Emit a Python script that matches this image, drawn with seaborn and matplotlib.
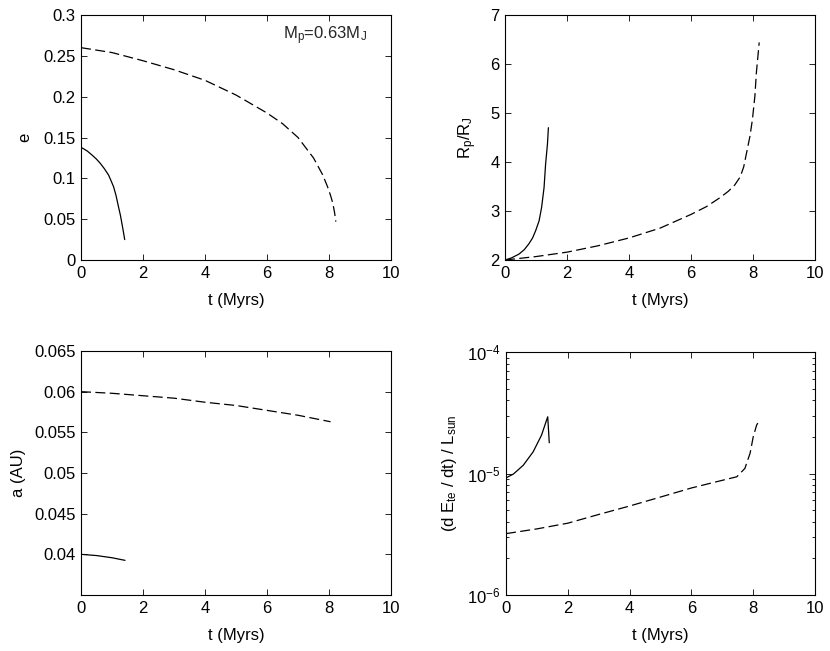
import numpy as np
import pandas as pd
import matplotlib
matplotlib.use("Agg")
import matplotlib.pyplot as plt
import seaborn as sns
from matplotlib.ticker import LogLocator, NullFormatter

# ---- data ----
t_e_solid = [0, 0.2, 0.35, 0.5, 0.62, 0.75, 0.89, 0.97, 1.05, 1.13, 1.21, 1.27, 1.32, 1.37, 1.41]
e_solid = [0.138, 0.1335, 0.1287, 0.1235, 0.1184, 0.112, 0.104, 0.097, 0.0898, 0.079, 0.065, 0.055, 0.0447, 0.034, 0.025]
t_e_dash = [0, 1, 2, 3, 4, 5, 6, 6.5, 7, 7.5, 7.8, 7.95, 8.05, 8.12, 8.18, 8.22]
e_dash = [0.26, 0.254, 0.244, 0.233, 0.22, 0.202, 0.18, 0.167, 0.15, 0.125, 0.104, 0.09, 0.079, 0.07, 0.058, 0.047]

t_r_solid = [0, 0.2, 0.45, 0.62, 0.77, 0.89, 0.99, 1.1, 1.18, 1.26, 1.31, 1.37, 1.40]
r_solid = [2.0, 2.04, 2.12, 2.21, 2.33, 2.45, 2.6, 2.8, 3.07, 3.48, 3.96, 4.37, 4.7]
t_r_dash = [0, 1, 2, 3, 4, 5, 6, 6.5, 6.93, 7.2, 7.41, 7.59, 7.7, 7.79, 7.9, 7.98, 8.06, 8.11, 8.2]
r_dash = [2.0, 2.07, 2.16, 2.29, 2.45, 2.65, 2.93, 3.09, 3.27, 3.4, 3.53, 3.7, 3.9, 4.18, 4.52, 4.86, 5.34, 5.83, 6.44]

t_a_solid = [0, 0.5, 1.0, 1.42]
a_solid = [0.0400, 0.03985, 0.03958, 0.03926]
t_a_dash = [0, 1, 2, 3, 4, 5, 6, 7, 8.05]
a_dash = [0.0600, 0.0598, 0.0595, 0.0592, 0.0587, 0.0583, 0.0577, 0.0571, 0.0563]

t_d_solid = [0, 0.24, 0.56, 0.88, 1.15, 1.35, 1.375, 1.40]
d_solid = [9.2e-6, 9.9e-6, 1.17e-5, 1.51e-5, 2.07e-5, 2.93e-5, 2.3e-5, 1.79e-5]
t_d_dash = [0, 1, 2, 3, 4, 5, 6, 6.93, 7.47, 7.73, 7.9, 8.0, 8.11, 8.15]
d_dash = [3.2e-6, 3.5e-6, 3.9e-6, 4.6e-6, 5.4e-6, 6.4e-6, 7.6e-6, 8.7e-6, 9.4e-6, 1.1e-5, 1.47e-5, 2.0e-5, 2.5e-5, 2.6e-5]

xticks = [0, 2, 4, 6, 8, 10]

sns.set_theme(style="ticks")
plt.rcParams["font.family"] = ["Liberation Sans", "DejaVu Sans"]
plt.rcParams.update({
    "mathtext.fontset": "custom",
    "mathtext.rm": "Liberation Sans",
    "mathtext.it": "Liberation Sans:italic",
    "mathtext.default": "regular",
    "font.size": 12,
    "axes.linewidth": 0.8,
    "axes.edgecolor": "black",
    "xtick.color": "black",
    "ytick.color": "black",
    "axes.labelcolor": "black",
})

fig = plt.figure(figsize=(8.3, 6.51), dpi=100)
W, H = 830.0, 651.0
ax_e = fig.add_axes([81 / W, 1 - 260 / H, 310 / W, 245 / H])
ax_r = fig.add_axes([505 / W, 1 - 260 / H, 310 / W, 245 / H])
ax_a = fig.add_axes([81 / W, 1 - 595 / H, 310 / W, 244 / H])
ax_d = fig.add_axes([506 / W, 1 - 595 / H, 309 / W, 243 / H])

dash_kw = dict(color="black", linewidth=0.9, dashes=(8, 3.5), estimator=None, sort=False)
solid_kw = dict(color="black", linewidth=0.9, estimator=None, sort=False)

sns.lineplot(x=t_e_solid, y=e_solid, ax=ax_e, **solid_kw)
sns.lineplot(x=t_e_dash, y=e_dash, ax=ax_e, **dash_kw)
sns.lineplot(x=t_r_solid, y=r_solid, ax=ax_r, **solid_kw)
sns.lineplot(x=t_r_dash, y=r_dash, ax=ax_r, **dash_kw)
sns.lineplot(x=t_a_solid, y=a_solid, ax=ax_a, **solid_kw)
sns.lineplot(x=t_a_dash, y=a_dash, ax=ax_a, **dash_kw)
sns.lineplot(x=t_d_solid, y=d_solid, ax=ax_d, **solid_kw)
sns.lineplot(x=t_d_dash, y=d_dash, ax=ax_d, **dash_kw)

for ax in (ax_e, ax_r, ax_a, ax_d):
    ax.set_xlim(0, 10)
    ax.set_xticks(xticks)
    ax.set_xlabel("t (Myrs)", labelpad=9)
    ax.tick_params(which="both", direction="in", top=True, right=True,
                   length=4, width=0.6, labelsize=12, pad=4)
    ax.tick_params(which="minor", length=2.5)
    for s in ax.spines.values():
        s.set_visible(True)
        s.set_linewidth(0.8)

ax_e.set_ylim(0, 0.3)
ax_e.set_yticks([0, 0.05, 0.1, 0.15, 0.2, 0.25, 0.3])
ax_e.set_yticklabels(["0", "0.05", "0.1", "0.15", "0.2", "0.25", "0.3"])
ax_e.set_ylabel("e", labelpad=8)
ax_e.text(0.65, 0.9, "$M_p$=0.63$M_J$", transform=ax_e.transAxes, fontsize=12)

ax_r.set_ylim(2, 7)
ax_r.set_yticks([2, 3, 4, 5, 6, 7])
ax_r.set_ylabel("$R_p/R_J$", labelpad=8)

ax_a.set_ylim(0.035, 0.065)
ax_a.set_yticks([0.04, 0.045, 0.05, 0.055, 0.06, 0.065])
ax_a.set_yticklabels(["0.04", "0.045", "0.05", "0.055", "0.06", "0.065"])
ax_a.set_ylabel("a (AU)", labelpad=6)

ax_d.set_yscale("log")
ax_d.set_ylim(1e-6, 1e-4)
ax_d.yaxis.set_major_locator(LogLocator(base=10, numticks=5))
ax_d.yaxis.set_minor_locator(LogLocator(base=10, subs=np.arange(2, 10), numticks=10))
ax_d.yaxis.set_minor_formatter(NullFormatter())
ax_d.set_ylabel("(d $E_{te}$ / dt) / $L_{sun}$", labelpad=6)

fig.savefig("out.png", dpi=100)
